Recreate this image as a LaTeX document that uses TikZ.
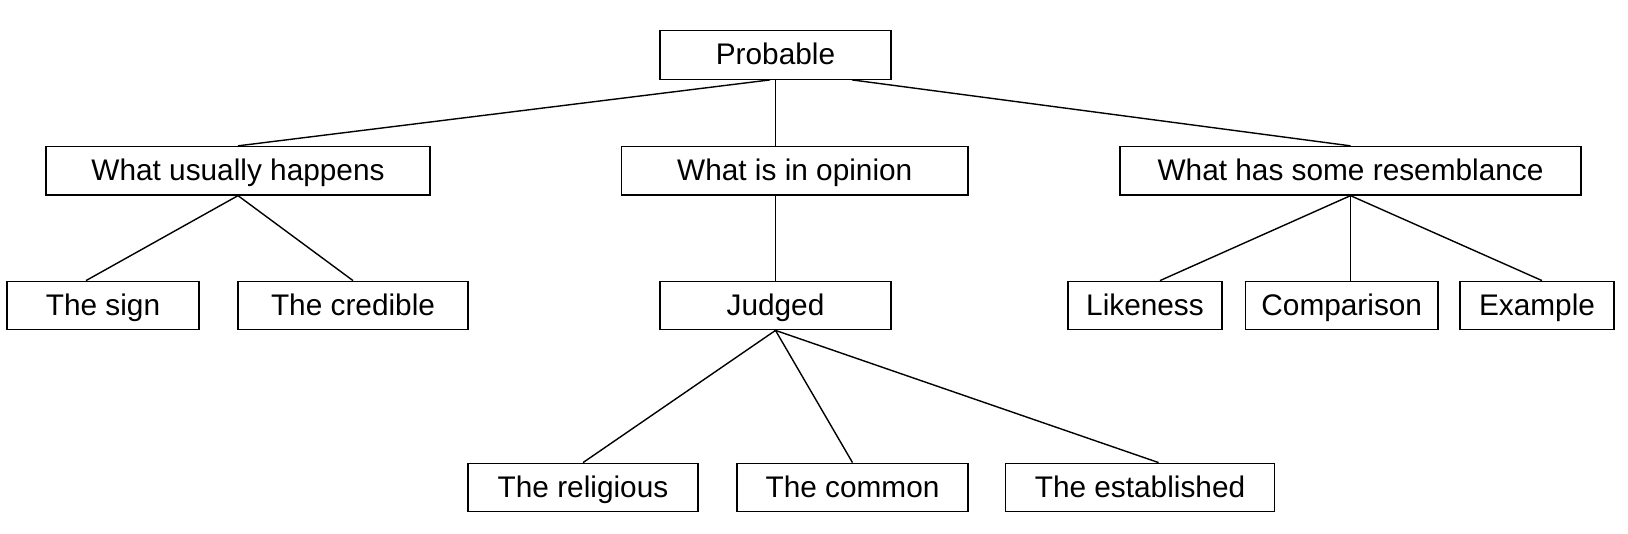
\documentclass[tikz,border=0pt]{standalone}
\usepackage{fontspec}
\setmainfont{Liberation Sans}
\usetikzlibrary{calc}
\begin{document}
\begin{tikzpicture}[x=0.5pt,y=-0.5pt,
  box/.style={draw=black,line width=0.65pt,inner sep=0pt,minimum height=24.25pt,
    text height=11.5pt,text depth=1.5pt,
    font=\fontsize{14.9}{18}\selectfont,anchor=center},
  link/.style={draw=black,line width=0.7pt}]
\useasboundingbox (0,0) rectangle (1628,534);
% level 1
\node[box,minimum width=115.5pt] (P) at (775.5,55) {Probable};
% level 2
\node[box,minimum width=192pt] (WUH) at (238,170.75) {What usually happens};
\node[box,minimum width=173.25pt] (WIIO) at (794.75,170.75) {What is in opinion};
\node[box,minimum width=230.5pt] (WHSR) at (1350.5,170.75) {What has some resemblance};
% level 3
\node[box,minimum width=96pt] (Sign) at (103,305.5) {The sign};
\node[box,minimum width=115pt] (Cred) at (353,305.5) {The credible};
\node[box,minimum width=115.5pt] (Judged) at (775.5,305.5) {Judged};
\node[box,minimum width=77pt] (Like) at (1145,305.5) {Likeness};
\node[box,minimum width=96.25pt] (Comp) at (1341.75,305.5) {Comparison};
\node[box,minimum width=77pt] (Exa) at (1537,305.5) {Example};
% level 4
\node[box,minimum width=115pt] (Rel) at (583,487.5) {The religious};
\node[box,minimum width=115.5pt] (Com) at (852.5,487.5) {The common};
\node[box,minimum width=134.5pt] (Est) at (1140,487.5) {The established};
% connectors
\draw[link] ($(P.south)+(-5.5,0)$) -- (WUH.north);
\draw[link] (P.south) -- (P.south |- WIIO.north);
\draw[link] ($(P.south)+(76.5,0)$) -- (WHSR.north);
\draw[link] (WUH.south) -- ($(Sign.north)+(-17,0)$);
\draw[link] (WUH.south) -- (Cred.north);
\draw[link] (Judged.north |- WIIO.south) -- (Judged.north);
\draw[link] (WHSR.south) -- ($(Like.north)+(15,0)$);
\draw[link] (WHSR.south) -- (WHSR.south |- Comp.north);
\draw[link] (WHSR.south) -- ($(Exa.north)+(5,0)$);
\draw[link] (Judged.south) -- (Rel.north);
\draw[link] (Judged.south) -- (Com.north);
\draw[link] (Judged.south) -- ($(Est.north)+(18.6,0)$);
\end{tikzpicture}
\end{document}
